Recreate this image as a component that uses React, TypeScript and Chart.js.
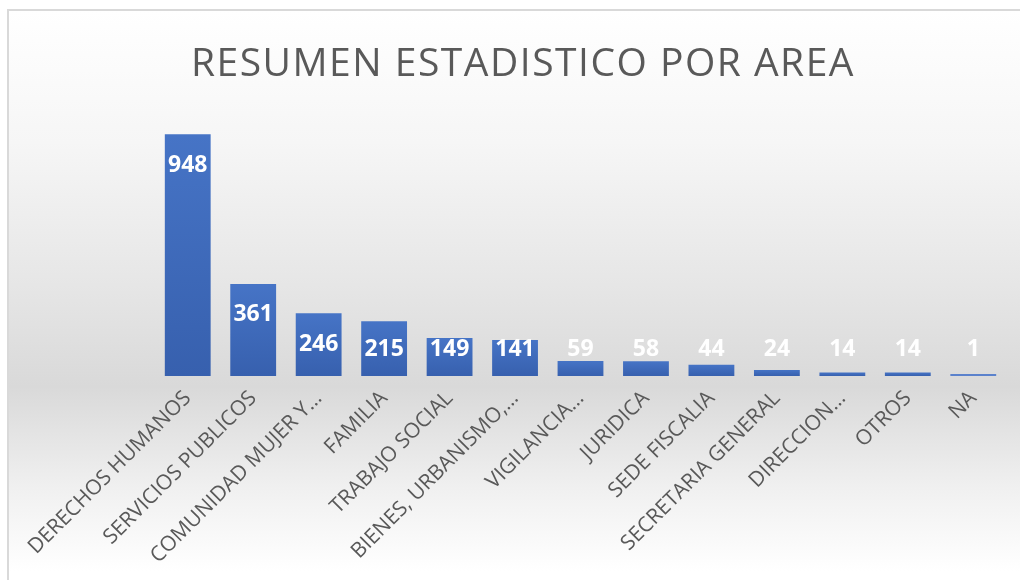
import React, { useEffect, useRef } from "react";
import { Chart, registerables } from "chart.js";
Chart.register(...registerables);

const chartTitle = "RESUMEN ESTADISTICO POR AREA";
const categories = [
  "DERECHOS HUMANOS",
  "SERVICIOS PUBLICOS",
  "COMUNIDAD MUJER Y…",
  "FAMILIA",
  "TRABAJO SOCIAL",
  "BIENES, URBANISMO,…",
  "VIGILANCIA…",
  "JURIDICA",
  "SEDE FISCALIA",
  "SECRETARIA GENERAL",
  "DIRECCION…",
  "OTROS",
  "NA",
];
const values = [948, 361, 246, 215, 149, 141, 59, 58, 44, 24, 14, 14, 1];
const yMax = 1000;

const W = 1020;
const H = 580;
const BASELINE = 376;
const PLOT_TOP = 121;
const PAD_LEFT = 26;
const PLOT_LEFT = 155;

const labelPlugin = {
  id: "valueLabels",
  afterDatasetsDraw(chart: any) {
    const ctx = chart.ctx;
    const meta = chart.getDatasetMeta(0);
    const base = chart.scales.y.getPixelForValue(0);
    ctx.save();
    ctx.fillStyle = "#ffffff";
    ctx.font = "bold 23px 'Open Sans'";
    ctx.textAlign = "center";
    ctx.textBaseline = "middle";
    meta.data.forEach((bar: any, i: number) => {
      const y = Math.min(bar.y + 31, base - 27);
      ctx.fillText(String(values[i]), bar.x, y);
    });
    ctx.restore();
  },
};

const titlePlugin = {
  id: "customTitle",
  afterDraw(chart: any) {
    const ctx = chart.ctx;
    ctx.save();
    ctx.fillStyle = "#595959";
    ctx.font = "400 39px 'Open Sans'";
    try {
      (ctx as any).letterSpacing = "1.5px";
    } catch (e) {}
    ctx.textAlign = "center";
    ctx.textBaseline = "alphabetic";
    ctx.fillText(chartTitle, (PAD_LEFT + chart.width) / 2, 76);
    ctx.restore();
  },
};

export default function App() {
  const ref = useRef<HTMLCanvasElement | null>(null);
  useEffect(() => {
    if (!ref.current) return;
    const chart = new Chart(ref.current, {
      type: "bar",
      data: {
        labels: categories,
        datasets: [
          {
            data: values,
            minBarLength: 2,
            barPercentage: 0.7,
            categoryPercentage: 1,
            backgroundColor: (c: any) => {
              const ch = c.chart;
              const ys = ch.scales && ch.scales.y;
              if (!ys || c.parsed == null) return "#4472c4";
              const top = ys.getPixelForValue(c.parsed.y);
              const bottom = ys.getPixelForValue(0);
              if (!isFinite(top) || !isFinite(bottom) || bottom - top < 1) return "#5b82cc";
              const g = ch.ctx.createLinearGradient(0, top, 0, bottom);
              g.addColorStop(0, "#4674c6");
              g.addColorStop(1, "#3760ae");
              return g;
            },
            borderWidth: 0,
          },
        ],
      },
      options: {
        responsive: false,
        animation: false,
        layout: { padding: { left: PAD_LEFT, right: 14, top: PLOT_TOP, bottom: 0 } },
        plugins: {
          legend: { display: false },
          tooltip: { enabled: false },
          title: { display: false },
        },
        scales: {
          x: {
            grid: { display: false },
            border: { display: false },
            ticks: {
              color: "#595959",
              font: { family: "'Open Sans'", size: 21 },
              minRotation: 45,
              maxRotation: 45,
              autoSkip: false,
              padding: 2,
            },
            afterFit: (s: any) => {
              s.height = H - BASELINE;
            },
          },
          y: {
            display: true,
            min: 0,
            max: yMax,
            grid: { display: false },
            border: { display: false },
            ticks: { display: false },
            afterFit: (s: any) => {
              s.width = PLOT_LEFT - PAD_LEFT;
            },
          },
        },
      },
      plugins: [labelPlugin, titlePlugin],
    });
    return () => chart.destroy();
  }, []);

  return (
    <div
      style={{
        position: "absolute",
        left: 0,
        top: 0,
        width: W,
        height: H,
        overflow: "hidden",
        background: "#ffffff",
      }}
    >
      <div
        style={{
          position: "absolute",
          left: 7,
          top: 9,
          width: 1040,
          height: 600,
          boxSizing: "border-box",
          border: "2px solid #d9d9d9",
          background:
            "linear-gradient(to bottom, #ffffff 0%, #f6f6f6 22%, #e6e6e6 46%, #d9d9d9 63%, #f0f0f0 80%, #ffffff 94%)",
        }}
      />
      <canvas
        ref={ref}
        width={W}
        height={H}
        style={{ position: "absolute", left: 0, top: 0, width: W, height: H }}
      />
    </div>
  );
}
